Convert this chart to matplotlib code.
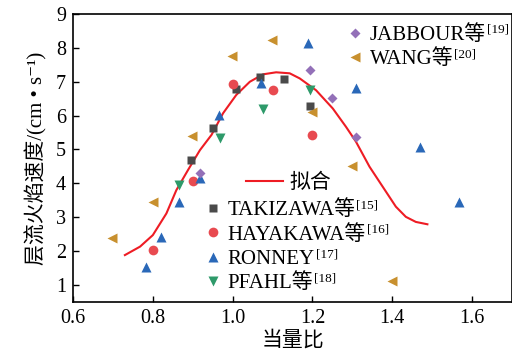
import matplotlib
matplotlib.use('Agg')
import matplotlib.pyplot as plt
from matplotlib.lines import Line2D

plt.rcParams['font.family'] = ['Liberation Serif', 'Noto Sans CJK SC', 'DejaVu Serif']
plt.rcParams['axes.unicode_minus'] = False

# 数据
taki_x = [0.895, 0.951, 1.009, 1.068, 1.128, 1.193]
taki_y = [4.69, 5.64, 6.80, 7.15, 7.07, 6.28]

haya_x = [0.800, 0.901, 1.001, 1.100, 1.200]
haya_y = [2.03, 4.08, 6.92, 6.75, 5.42]

ronney_x = [0.783, 0.820, 0.866, 0.919, 0.966, 1.070, 1.190, 1.308, 1.470, 1.568]
ronney_y = [1.52, 2.42, 3.46, 4.15, 6.02, 6.95, 8.16, 6.81, 5.08, 3.44]

pfahl_x = [0.866, 0.968, 1.076, 1.193]
pfahl_y = [3.95, 5.35, 6.19, 6.75]

jabbour_x = [0.919, 1.193, 1.248, 1.309]
jabbour_y = [4.31, 7.35, 6.53, 5.37]

wang_x = [0.698, 0.800, 0.899, 0.999, 1.099, 1.199, 1.299, 1.399]
wang_y = [2.39, 3.46, 5.40, 7.76, 8.23, 6.11, 4.51, 1.11]

# 拟合曲线（沿图中红线取点）
fit_x = [0.730, 0.768, 0.800, 0.834, 0.859, 0.888, 0.918, 0.947, 0.976, 1.009,
         1.043, 1.076, 1.109, 1.143, 1.168, 1.209, 1.251, 1.284, 1.309, 1.343,
         1.376, 1.409, 1.434, 1.459, 1.488]
fit_y = [1.88, 2.13, 2.47, 3.11, 3.80, 4.39, 4.98, 5.43, 6.07, 6.61,
         7.00, 7.22, 7.28, 7.25, 7.10, 6.75, 6.21, 5.67, 5.23, 4.49,
         3.90, 3.31, 3.01, 2.86, 2.79]

xticks = [0.6, 0.8, 1.0, 1.2, 1.4, 1.6]
yticks = [1, 2, 3, 4, 5, 6, 7, 8, 9]

fig = plt.figure(figsize=(5.12, 3.61), dpi=100)
ax = fig.add_axes([0.1426, 0.164, 0.8574, 0.797])

ax.plot(fit_x, fit_y, color='#ee1c24', lw=1.5, zorder=1)

ax.plot(taki_x, taki_y, ls='none', marker='s', ms=6, color='#4a4a4a', mec='none', zorder=3)
ax.plot(haya_x, haya_y, ls='none', marker='o', ms=7, color='#e84a50', mec='none', zorder=3)
ax.plot(ronney_x, ronney_y, ls='none', marker='^', ms=7.5, color='#2a68b8', mec='none', zorder=3)
ax.plot(pfahl_x, pfahl_y, ls='none', marker='v', ms=7.5, color='#2e9a6a', mec='none', zorder=3)
ax.plot(jabbour_x, jabbour_y, ls='none', marker='D', ms=5.5, color='#9370b8', mec='none', zorder=3)
ax.plot(wang_x, wang_y, ls='none', marker='<', ms=7.5, color='#c8902e', mec='none', zorder=3)

ax.set_xlim(0.6, 1.7)
ax.set_ylim(0.5, 9)
ax.set_xticks(xticks)
ax.set_yticks(yticks)
ax.set_xticklabels([f'{v:.1f}' for v in xticks])
ax.tick_params(direction='in', length=4, width=1, labelsize=14.5, pad=5)
for s in ax.spines.values():
    s.set_linewidth(1.2)

ax.set_xlabel('当量比', fontsize=15, labelpad=2)
ax.set_ylabel('层流火焰速度/(cm • s⁻¹)', fontsize=15, labelpad=6)

# 图例
def h(marker, color, ms):
    return Line2D([], [], ls='none', marker=marker, ms=ms, color=color, mec='none')

leg_kw = dict(frameon=False, fontsize=15, borderpad=0, borderaxespad=0,
              handletextpad=0.25, handlelength=0.9, labelspacing=0.22)

leg1 = ax.legend([h('D', '#9370b8', 5.5), h('<', '#c8902e', 7.5)],
                 ['JABBOUR等', 'WANG等'], loc='upper left',
                 bbox_to_anchor=(0.622, 0.962), **leg_kw)
ax.add_artist(leg1)

leg2 = ax.legend([Line2D([], [], color='#ee1c24', lw=1.5)], ['拟合'],
                 loc='upper left', bbox_to_anchor=(0.393, 0.445),
                 frameon=False, fontsize=15, borderpad=0, borderaxespad=0,
                 handletextpad=0.3, handlelength=1.8)
ax.add_artist(leg2)

leg3 = ax.legend([h('s', '#4a4a4a', 6), h('o', '#e84a50', 7),
                  h('^', '#2a68b8', 7.5), h('v', '#2e9a6a', 7.5)],
                 ['TAKIZAWA等', 'HAYAKAWA等', 'RONNEY', 'PFAHL等'],
                 loc='upper left', bbox_to_anchor=(0.298, 0.352), **leg_kw)

sups = [(leg1, ['[19]', '[20]']), (leg3, ['[15]', '[16]', '[17]', '[18]'])]
for leg, refs in sups:
    for t, r in zip(leg.get_texts(), refs):
        ax.annotate(r, xy=(1, 1), xycoords=t, xytext=(0.5, 1.0),
                    textcoords='offset points', ha='left', va='top',
                    fontsize=9.5, zorder=6)

fig.savefig('out.png', dpi=100)
